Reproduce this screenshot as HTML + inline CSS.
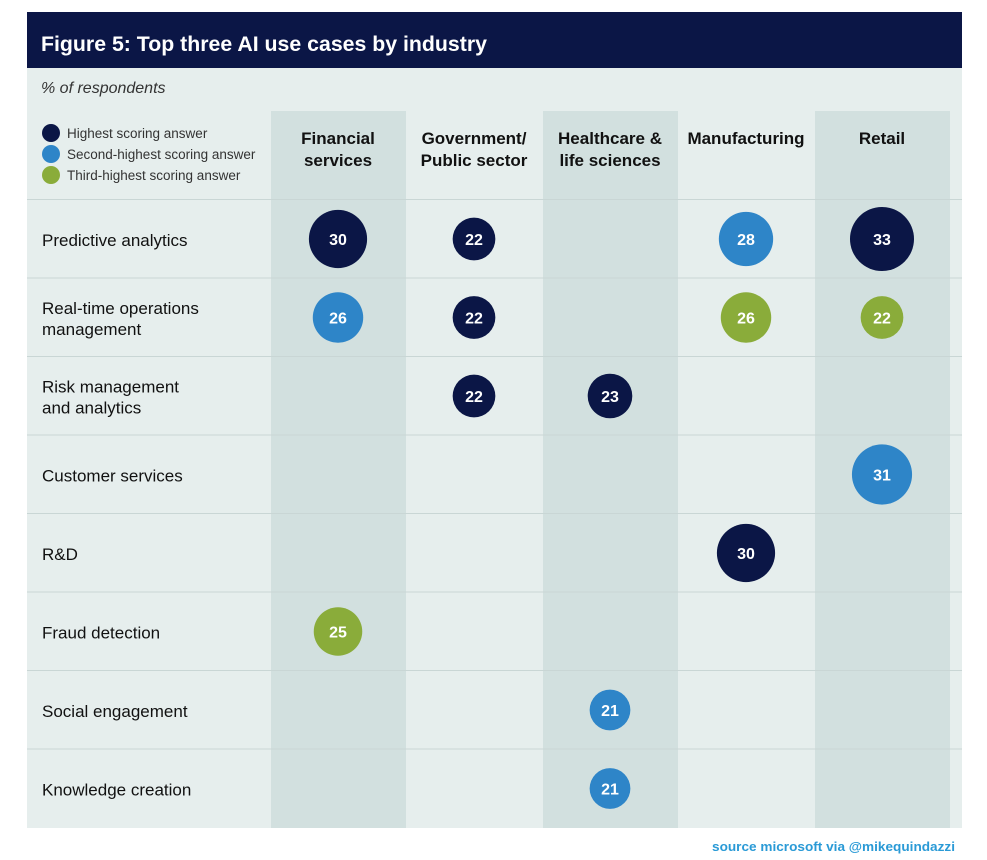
<!DOCTYPE html>
<html><head><meta charset="utf-8"><style>
body{margin:0;background:#fff;font-family:"Liberation Sans",sans-serif}
svg text{font-family:"Liberation Sans",sans-serif}
</style></head><body>
<svg id="chart" width="987" height="855" viewBox="0 0 987 855">
<rect x="27" y="67" width="935" height="761" fill="#e6eeed"/>
<rect x="27" y="12" width="935" height="56" fill="#0b1646"/>
<text x="41" y="51" font-size="21" font-weight="bold" fill="#fff" textLength="446" lengthAdjust="spacingAndGlyphs">Figure 5: Top three AI use cases by industry</text>
<text x="41" y="93" font-size="16" font-style="italic" fill="#333">% of respondents</text>
<g id="cols"></g><g id="rows"></g><g id="legend"></g><g id="marks"></g>
<text x="955" y="851" font-size="13" font-weight="bold" text-anchor="end" fill="#2a9ad6" font-family="DejaVu Sans Mono, monospace" textLength="243" lengthAdjust="spacingAndGlyphs">source microsoft via @mikequindazzi</text>
</svg>
<script>
const industries=[["Financial","services"],["Government/","Public sector"],["Healthcare &","life sciences"],["Manufacturing"],["Retail"]];
const useCases=[["Predictive analytics"],["Real-time operations","management"],["Risk management","and analytics"],["Customer services"],["R&D"],["Fraud detection"],["Social engagement"],["Knowledge creation"]];
// [rowIndex, colIndex, value, rank(0=highest,1=second,2=third)]
const points=[[0,0,30,0],[0,1,22,0],[0,3,28,1],[0,4,33,0],[1,0,26,1],[1,1,22,0],[1,3,26,2],[1,4,22,2],[2,1,22,0],[2,2,23,0],[3,4,31,1],[4,3,30,0],[5,0,25,2],[6,2,21,1],[7,2,21,1]];
const legendLabels=["Highest scoring answer","Second-highest scoring answer","Third-highest scoring answer"];
const rankColors=["#0b1646","#2e85c8","#8aac3a"];
const NS="http://www.w3.org/2000/svg";
function mk(t,a,p){const e=document.createElementNS(NS,t);for(const k in a)e.setAttribute(k,a[k]);p.appendChild(e);return e;}
const colX=i=>338+i*136, rowY=i=>239+i*78.5, rad=v=>v*0.97;
const cols=document.getElementById('cols'),rows=document.getElementById('rows'),leg=document.getElementById('legend'),marks=document.getElementById('marks');
industries.forEach((lab,i)=>{
  if(i%2===0){const r=mk('rect',{x:colX(i)-67,y:111,width:135,height:717,fill:'#d2e0df'},cols);
  
  }
  lab.forEach((l,j)=>{const t=mk('text',{x:colX(i),y:144+j*22,'font-size':17,'font-weight':'bold','text-anchor':'middle',fill:'#111'},cols);t.textContent=l;
  
  });
});
for(let k=0;k<useCases.length;k++){
  const ln=mk('line',{x1:27,x2:962,y1:rowY(k)-39.5,y2:rowY(k)-39.5,stroke:'#c9d6d5','stroke-width':1},rows);
  
  
  const lines=useCases[k];
  lines.forEach((l,j)=>{const t=mk('text',{x:42,y:rowY(k)+7+(j-(lines.length-1)/2)*21,'font-size':17,fill:'#111'},rows);t.textContent=l;
  
  });
}
legendLabels.forEach((l,i)=>{
  const c=mk('circle',{cx:51,cy:133+i*21,r:9,fill:rankColors[i]},leg);
  
  
  const t=mk('text',{x:67,y:138+i*21,'font-size':13.5,fill:'#333'},leg);t.textContent=l;
  
  
});
points.forEach(p=>{
  const c=mk('circle',{cx:colX(p[1]),cy:rowY(p[0]),r:rad(p[2]),fill:rankColors[p[3]]},marks);
  
  
  const t=mk('text',{x:colX(p[1]),y:rowY(p[0])+6,'font-size':16,'font-weight':'bold','text-anchor':'middle',fill:'#fff'},marks);t.textContent=p[2];
  
  
});
</script>
</body></html>
